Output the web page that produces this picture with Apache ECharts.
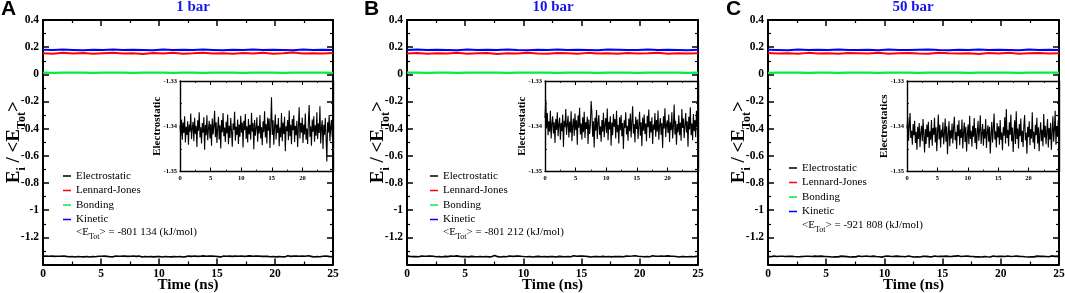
<!DOCTYPE html>
<html>
<head>
<meta charset="utf-8">
<script src="https://cdn.jsdelivr.net/npm/echarts@6/dist/echarts.min.js"></script>
<style>
html, body { margin: 0; padding: 0; background: #fff; }
#chart { width: 1065px; height: 293px; }
</style>
</head>
<body>
<div id="chart"></div>
<script>
// ---- data ----
const panelLetters = ['A', 'B', 'C'];
const pressures = ['1 bar', '10 bar', '50 bar'];
const totalEnergies = ['-801 134', '-801 212', '-921 808'];
const insetLabels = ['Electrostatic', 'Electrostatic', 'Electrostatics'];
const seriesNames = ['Electrostatic', 'Lennard-Jones', 'Bonding', 'Kinetic'];
const durationNs = 25;

// electrostatic energy / <E_tot>, sampled evenly over 0-25 ns
const elecA = [
  -1.3398, -1.3421, -1.3385, -1.3430, -1.3392, -1.3415, -1.3378, -1.3436, -1.3401, -1.3419,
  -1.3389, -1.3441, -1.3396, -1.3412, -1.3372, -1.3428, -1.3404, -1.3390, -1.3433, -1.3381,
  -1.3417, -1.3399, -1.3446, -1.3387, -1.3410, -1.3369, -1.3425, -1.3402, -1.3438, -1.3393,
  -1.3414, -1.3380, -1.3452, -1.3397, -1.3420, -1.3376, -1.3431, -1.3406, -1.3388, -1.3427,
  -1.3395, -1.3443, -1.3383, -1.3418, -1.3400, -1.3366, -1.3424, -1.3391, -1.3437, -1.3405,
  -1.3379, -1.3429, -1.3398, -1.3449, -1.3386, -1.3413, -1.3371, -1.3422, -1.3403, -1.3435,
  -1.3390, -1.3416, -1.3374, -1.3440, -1.3399, -1.3426, -1.3382, -1.3411, -1.3445, -1.3394,
  -1.3408, -1.3368, -1.3432, -1.3401, -1.3419, -1.3385, -1.3439, -1.3396, -1.3423, -1.3377,
  -1.3414, -1.3392, -1.3447, -1.3388, -1.3409, -1.3373, -1.3428, -1.3400, -1.3436, -1.3384,
  -1.3418, -1.3397, -1.3430, -1.3370, -1.3412, -1.3393, -1.3451, -1.3386, -1.3421, -1.3404,
  -1.3380, -1.3434, -1.3399, -1.3416, -1.3375, -1.3427, -1.3402, -1.3442, -1.3389, -1.3413,
  -1.3367, -1.3425, -1.3395, -1.3438, -1.3381, -1.3410, -1.3383, -1.3448, -1.3398, -1.3336,
  -1.3419, -1.3387, -1.3441, -1.3401, -1.3374, -1.3429, -1.3396, -1.3415, -1.3382, -1.3444,
  -1.3403, -1.3424, -1.3371, -1.3433, -1.3392, -1.3417, -1.3379, -1.3455, -1.3400, -1.3411,
  -1.3386, -1.3431, -1.3365, -1.3422, -1.3397, -1.3440, -1.3384, -1.3409, -1.3376, -1.3435,
  -1.3399, -1.3420, -1.3388, -1.3446, -1.3402, -1.3358, -1.3427, -1.3393, -1.3414, -1.3381,
  -1.3437, -1.3396, -1.3418, -1.3372, -1.3430, -1.3405, -1.3439, -1.3390, -1.3353, -1.3423,
  -1.3400, -1.3443, -1.3385, -1.3412, -1.3378, -1.3434, -1.3398, -1.3421, -1.3369, -1.3428,
  -1.3394, -1.3415, -1.3356, -1.3438, -1.3403, -1.3387, -1.3450, -1.3397, -1.3419, -1.3382,
  -1.3426, -1.3478, -1.3391, -1.3414, -1.3375, -1.3433, -1.3401, -1.3386, -1.3424, -1.3399
];
const elecB = [
  -1.3382, -1.3342, -1.3405, -1.3371, -1.3420, -1.3389, -1.3412, -1.3366, -1.3427, -1.3395,
  -1.3378, -1.3416, -1.3391, -1.3437, -1.3384, -1.3408, -1.3369, -1.3422, -1.3397, -1.3381,
  -1.3430, -1.3393, -1.3411, -1.3374, -1.3446, -1.3388, -1.3402, -1.3362, -1.3419, -1.3396,
  -1.3377, -1.3425, -1.3390, -1.3414, -1.3367, -1.3433, -1.3399, -1.3383, -1.3421, -1.3372,
  -1.3409, -1.3387, -1.3441, -1.3376, -1.3403, -1.3359, -1.3418, -1.3394, -1.3429, -1.3380,
  -1.3413, -1.3368, -1.3426, -1.3391, -1.3406, -1.3379, -1.3439, -1.3385, -1.3417, -1.3398,
  -1.3344, -1.3371, -1.3423, -1.3389, -1.3447, -1.3381, -1.3410, -1.3364, -1.3428, -1.3393,
  -1.3375, -1.3419, -1.3400, -1.3434, -1.3386, -1.3412, -1.3370, -1.3424, -1.3396, -1.3382,
  -1.3415, -1.3361, -1.3431, -1.3390, -1.3407, -1.3378, -1.3443, -1.3392, -1.3420, -1.3373,
  -1.3401, -1.3384, -1.3427, -1.3366, -1.3413, -1.3397, -1.3438, -1.3380, -1.3409, -1.3375,
  -1.3422, -1.3393, -1.3450, -1.3387, -1.3404, -1.3369, -1.3418, -1.3399, -1.3432, -1.3383,
  -1.3411, -1.3372, -1.3425, -1.3390, -1.3356, -1.3416, -1.3395, -1.3436, -1.3379, -1.3406,
  -1.3385, -1.3428, -1.3398, -1.3368, -1.3421, -1.3391, -1.3444, -1.3381, -1.3410, -1.3374,
  -1.3417, -1.3394, -1.3433, -1.3377, -1.3402, -1.3363, -1.3426, -1.3389, -1.3414, -1.3380,
  -1.3439, -1.3396, -1.3408, -1.3371, -1.3423, -1.3386, -1.3412, -1.3365, -1.3430, -1.3399,
  -1.3382, -1.3419, -1.3393, -1.3448, -1.3378, -1.3405, -1.3360, -1.3424, -1.3397, -1.3387,
  -1.3415, -1.3374, -1.3435, -1.3391, -1.3409, -1.3369, -1.3427, -1.3400, -1.3352, -1.3418,
  -1.3388, -1.3441, -1.3395, -1.3413, -1.3376, -1.3420, -1.3392, -1.3432, -1.3362, -1.3404,
  -1.3383, -1.3426, -1.3398, -1.3371, -1.3414, -1.3389, -1.3445, -1.3379, -1.3407, -1.3358,
  -1.3420, -1.3394, -1.3431, -1.3373, -1.3411, -1.3386, -1.3424, -1.3366, -1.3401, -1.3350
];
const elecC = [
  -1.3405, -1.3380, -1.3432, -1.3398, -1.3371, -1.3426, -1.3410, -1.3441, -1.3395, -1.3420,
  -1.3388, -1.3437, -1.3412, -1.3452, -1.3401, -1.3428, -1.3393, -1.3446, -1.3415, -1.3399,
  -1.3433, -1.3384, -1.3421, -1.3458, -1.3406, -1.3439, -1.3396, -1.3424, -1.3390, -1.3448,
  -1.3411, -1.3430, -1.3386, -1.3443, -1.3404, -1.3419, -1.3381, -1.3436, -1.3402, -1.3455,
  -1.3413, -1.3374, -1.3429, -1.3397, -1.3447, -1.3408, -1.3425, -1.3391, -1.3440, -1.3416,
  -1.3383, -1.3434, -1.3400, -1.3462, -1.3418, -1.3389, -1.3444, -1.3409, -1.3427, -1.3394,
  -1.3438, -1.3403, -1.3379, -1.3431, -1.3412, -1.3450, -1.3397, -1.3422, -1.3387, -1.3442,
  -1.3407, -1.3426, -1.3385, -1.3449, -1.3414, -1.3392, -1.3435, -1.3401, -1.3456, -1.3419,
  -1.3396, -1.3440, -1.3377, -1.3428, -1.3410, -1.3445, -1.3399, -1.3423, -1.3382, -1.3437,
  -1.3404, -1.3451, -1.3415, -1.3388, -1.3432, -1.3409, -1.3376, -1.3439, -1.3417, -1.3395,
  -1.3443, -1.3406, -1.3427, -1.3384, -1.3448, -1.3413, -1.3398, -1.3434, -1.3401, -1.3460,
  -1.3420, -1.3390, -1.3436, -1.3405, -1.3372, -1.3429, -1.3411, -1.3447, -1.3393, -1.3425,
  -1.3400, -1.3441, -1.3386, -1.3430, -1.3414, -1.3453, -1.3402, -1.3421, -1.3380, -1.3438,
  -1.3362, -1.3426, -1.3408, -1.3444, -1.3391, -1.3419, -1.3374, -1.3433, -1.3403, -1.3457,
  -1.3416, -1.3387, -1.3439, -1.3367, -1.3428, -1.3405, -1.3449, -1.3395, -1.3422, -1.3383,
  -1.3435, -1.3410, -1.3446, -1.3398, -1.3375, -1.3431, -1.3414, -1.3461, -1.3401, -1.3424,
  -1.3389, -1.3442, -1.3406, -1.3427, -1.3369, -1.3436, -1.3412, -1.3450, -1.3397, -1.3420,
  -1.3381, -1.3438, -1.3402, -1.3455, -1.3415, -1.3391, -1.3433, -1.3408, -1.3444, -1.3373,
  -1.3425, -1.3399, -1.3440, -1.3411, -1.3384, -1.3447, -1.3404, -1.3429, -1.3393, -1.3452,
  -1.3413, -1.3378, -1.3434, -1.3406, -1.3366, -1.3441, -1.3400, -1.3423, -1.3387, -1.3436
];

const ljA = [0.156, 0.152, 0.158, 0.154, 0.157, 0.151, 0.155, 0.159, 0.153, 0.156, 0.150, 0.157, 0.154, 0.158, 0.152,
  0.155, 0.159, 0.153, 0.156, 0.151, 0.157, 0.154, 0.158, 0.152, 0.155, 0.160, 0.153, 0.156, 0.154, 0.157];
const kinA = [0.181, 0.179, 0.182, 0.180, 0.178, 0.181, 0.180, 0.183, 0.179, 0.181, 0.180, 0.178, 0.182, 0.180, 0.181,
  0.179, 0.182, 0.180, 0.178, 0.181, 0.180, 0.183, 0.179, 0.181, 0.180, 0.178, 0.182, 0.180, 0.181, 0.179];
const bondA = [0.012, 0.011, 0.013, 0.012, 0.012, 0.011, 0.012, 0.013, 0.012, 0.011, 0.012, 0.012, 0.013, 0.011, 0.012,
  0.012, 0.011, 0.013, 0.012, 0.012, 0.011, 0.012, 0.013, 0.012, 0.011, 0.012, 0.012, 0.013, 0.012, 0.011];
const ljB = [0.154, 0.157, 0.151, 0.156, 0.153, 0.158, 0.152, 0.155, 0.157, 0.150, 0.156, 0.153, 0.159, 0.154, 0.152,
  0.157, 0.155, 0.151, 0.158, 0.154, 0.156, 0.152, 0.157, 0.153, 0.155, 0.159, 0.152, 0.156, 0.154, 0.155];
const kinB = [0.180, 0.182, 0.179, 0.181, 0.180, 0.178, 0.182, 0.180, 0.181, 0.179, 0.183, 0.180, 0.178, 0.181, 0.180,
  0.182, 0.179, 0.181, 0.180, 0.178, 0.182, 0.181, 0.179, 0.180, 0.182, 0.179, 0.181, 0.180, 0.178, 0.181];
const bondB = [0.012, 0.012, 0.011, 0.013, 0.012, 0.011, 0.012, 0.012, 0.013, 0.012, 0.011, 0.012, 0.013, 0.012, 0.012,
  0.011, 0.012, 0.013, 0.012, 0.011, 0.012, 0.012, 0.013, 0.011, 0.012, 0.012, 0.013, 0.012, 0.011, 0.012];
const ljC = [0.157, 0.153, 0.156, 0.151, 0.158, 0.154, 0.155, 0.152, 0.157, 0.156, 0.153, 0.159, 0.151, 0.155, 0.157,
  0.154, 0.152, 0.158, 0.155, 0.153, 0.156, 0.150, 0.157, 0.154, 0.158, 0.152, 0.155, 0.157, 0.153, 0.156];
const kinC = [0.181, 0.180, 0.178, 0.182, 0.179, 0.181, 0.180, 0.183, 0.179, 0.180, 0.181, 0.178, 0.182, 0.180, 0.179,
  0.181, 0.183, 0.180, 0.178, 0.181, 0.180, 0.182, 0.179, 0.181, 0.180, 0.178, 0.182, 0.179, 0.181, 0.180];
const bondC = [0.011, 0.012, 0.012, 0.013, 0.011, 0.012, 0.012, 0.011, 0.013, 0.012, 0.012, 0.011, 0.012, 0.013, 0.012,
  0.011, 0.012, 0.012, 0.013, 0.012, 0.011, 0.012, 0.012, 0.013, 0.012, 0.011, 0.012, 0.012, 0.013, 0.012];

const elecData = [elecA, elecB, elecC];
const ljData = [ljA, ljB, ljC];
const bondData = [bondA, bondB, bondC];
const kinData = [kinA, kinB, kinC];

// ---- layout ----
const colors = {Electrostatic: '#000000', 'Lennard-Jones': '#ff0000', Bonding: '#00ee44', Kinetic: '#0000ff'};
const mainBoxes = [{left: 43, width: 290}, {left: 407, width: 291}, {left: 768, width: 291}];
const insetBoxes = [{left: 180, width: 153}, {left: 545, width: 153}, {left: 907, width: 152}];
const titleX = [193, 553, 913];
const letterX = [1, 364, 726];
const legendX = [63, 430, 789];
const legendY = [169, 169, 161];
const totalY = [232, 232, 225];

const SERIF = '"Liberation Serif", "Times New Roman", serif';

// pair samples with evenly spaced time stamps
const withTime = vals => vals.map((v, i) => [i * durationNs / (vals.length - 1), v]);

function axis(dir, grid, opts) {
  const main = opts.main;
  const a = {
    type: 'value',
    gridIndex: grid,
    position: opts.position,
    min: opts.min, max: opts.max, interval: opts.interval,
    splitLine: {show: false},
    axisLine: {show: true, onZero: false, lineStyle: {color: '#000', width: main ? 2 : 1.4}},
    axisTick: {show: true, inside: true, length: main ? 6 : 4, lineStyle: {color: '#000', width: main ? 1.5 : 1}},
    minorTick: {show: true, splitNumber: 2, length: main ? 3 : 2, lineStyle: {color: '#000', width: main ? 1.2 : 0.8}},
    axisLabel: {
      show: !!opts.labels,
      color: '#000', fontFamily: SERIF, fontWeight: 'bold',
      fontSize: main ? 11.5 : 6.5, margin: main ? 4 : 3,
      showMinLabel: opts.showMin !== false, showMaxLabel: opts.showMax !== false
    }
  };
  if (opts.name) {
    a.name = opts.name;
    a.nameLocation = 'middle';
    a.nameGap = opts.nameGap;
    a.nameMoveOverlap = false;
    a.nameTextStyle = opts.nameStyle;
  }
  return a;
}

const grid = [], xAxis = [], yAxis = [], series = [], legend = [], title = [], graphic = [];

for (let p = 0; p < 3; p++) {
  const gMain = grid.length;
  grid.push({left: mainBoxes[p].left, width: mainBoxes[p].width, top: 20, height: 244.5, containLabel: false, outerBoundsMode: 'none'});
  const gIn = grid.length;
  grid.push({left: insetBoxes[p].left, width: insetBoxes[p].width, top: 81, height: 90.5, containLabel: false, outerBoundsMode: 'none'});

  // main panel axes
  const xm = xAxis.length;
  xAxis.push(axis('x', gMain, {main: true, position: 'bottom', min: 0, max: 25, interval: 5, labels: true,
    name: 'Time (ns)', nameGap: 12.5,
    nameStyle: {color: '#000', fontFamily: SERIF, fontWeight: 'bold', fontSize: 15, lineHeight: 17}}));
  xAxis.push(axis('x', gMain, {main: true, position: 'top', min: 0, max: 25, interval: 5}));
  const ym = yAxis.length;
  yAxis.push(axis('y', gMain, {main: true, position: 'left', min: -1.4, max: 0.4, interval: 0.2, labels: true, showMin: false,
    name: 'E{s|i} / <E{s|Tot}>', nameGap: 15,
    nameStyle: {color: '#000', fontFamily: SERIF, fontWeight: 'bold', fontSize: 19, lineHeight: 28,
      rich: {s: {fontFamily: SERIF, fontWeight: 'bold', fontSize: 12, lineHeight: 12, verticalAlign: 'bottom'}}}}));
  yAxis.push(axis('y', gMain, {main: true, position: 'right', min: -1.4, max: 0.4, interval: 0.2}));

  // inset axes
  const xi = xAxis.length;
  xAxis.push(axis('x', gIn, {main: false, position: 'bottom', min: 0, max: 25, interval: 5, labels: true, showMax: false}));
  xAxis.push(axis('x', gIn, {main: false, position: 'top', min: 0, max: 25, interval: 5}));
  const yi = yAxis.length;
  yAxis.push(axis('y', gIn, {main: false, position: 'left', min: -1.35, max: -1.33, interval: 0.01, labels: true,
    name: insetLabels[p], nameGap: 16,
    nameStyle: {color: '#000', fontFamily: SERIF, fontWeight: 'bold', fontSize: 11, lineHeight: 13}}));
  yAxis.push(axis('y', gIn, {main: false, position: 'right', min: -1.35, max: -1.33, interval: 0.01}));

  const lineSeries = (name, vals, width, xIdx, yIdx) => ({
    name, type: 'line', xAxisIndex: xIdx, yAxisIndex: yIdx,
    data: withTime(vals), symbol: 'none', color: colors[name],
    lineStyle: {color: colors[name], width}, silent: true, animation: false
  });
  series.push(lineSeries('Electrostatic', elecData[p], 1.6, xm, ym));
  series.push(lineSeries('Lennard-Jones', ljData[p], 2, xm, ym));
  series.push(lineSeries('Bonding', bondData[p], 2.2, xm, ym));
  series.push(lineSeries('Kinetic', kinData[p], 2, xm, ym));
  series.push(lineSeries('Electrostatic', elecData[p], 1.1, xi, yi));

  legend.push({
    orient: 'vertical', left: legendX[p], top: legendY[p], padding: 0,
    data: seriesNames, icon: 'rect', itemWidth: 8, itemHeight: 1.5, itemGap: 0.5,
    selectedMode: false,
    textStyle: {color: '#000', fontFamily: SERIF, fontSize: 11, lineHeight: 14}
  });

  title.push({
    text: pressures[p], left: titleX[p], top: 0, textAlign: 'center', padding: 0,
    textStyle: {color: '#1414f0', fontFamily: SERIF, fontWeight: 'bold', fontSize: 15}
  });

  graphic.push({
    type: 'text', left: letterX[p], top: -1,
    style: {text: panelLetters[p], fill: '#000', font: 'bold 21px "Liberation Sans", Arial, sans-serif'}
  });
  graphic.push({
    type: 'text', x: legendX[p] + 13, y: totalY[p],
    style: {
      text: '<E{s|Tot}> = ' + totalEnergies[p] + ' (kJ/mol)',
      fill: '#000', fontFamily: SERIF, fontSize: 11, lineHeight: 18, verticalAlign: 'middle',
      rich: {s: {fontFamily: SERIF, fontSize: 8, lineHeight: 8, verticalAlign: 'bottom', fill: '#000'}}
    }
  });
}

const chart = echarts.init(document.getElementById('chart'), null, {renderer: 'canvas'});
chart.setOption({
  animation: false,
  backgroundColor: '#ffffff',
  title, grid, xAxis, yAxis, series, legend, graphic
});
</script>
</body>
</html>
